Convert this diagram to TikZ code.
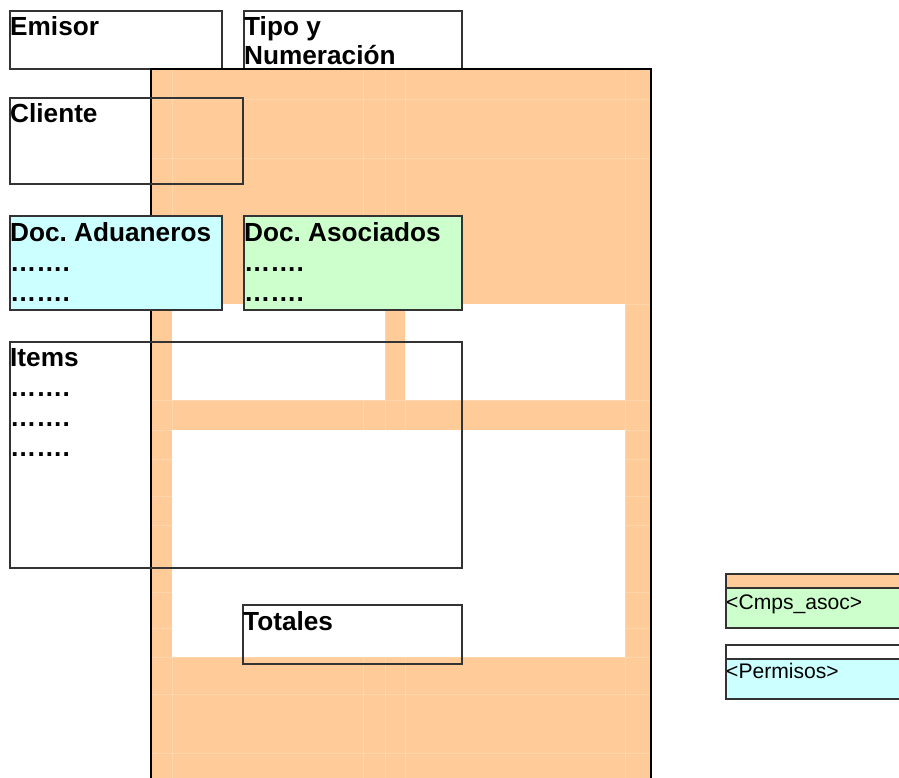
\documentclass[tikz,border=0pt]{standalone}
\usepackage{fontspec}
\setmainfont{Liberation Sans}
\frenchspacing
\definecolor{peach}{HTML}{FFCC99}
\definecolor{paleCyan}{HTML}{CCFFFF}
\definecolor{paleGreen}{HTML}{CCFFCC}
\definecolor{edgegray}{HTML}{333333}
\newcommand\boxlines[1]{\begin{tabular}[t]{@{}l@{}}#1\end{tabular}}
\begin{document}
\begin{tikzpicture}[x=1bp,y=-1bp,
  field/.style={draw=edgegray, line width=1.1bp, rectangle, inner sep=0pt, outer sep=0pt, anchor=north west},
  ttl/.style={inner sep=0pt, anchor=base west, font=\fontsize{26.2bp}{30bp}\selectfont\bfseries\frenchspacing},
  small/.style={inner sep=0pt, anchor=base west, font=\fontsize{21.1bp}{24bp}\selectfont},
  seam/.style={draw=white, opacity=0.18, line width=0.7bp},
  hole/.style={fill=white}]
\useasboundingbox (0,0) rectangle (899,778);

% boxes behind the form
\node[field, minimum width=212bp, minimum height=58bp] (emisor) at (10,11) {};
\node[field, minimum width=218bp, minimum height=58bp] (tipo) at (244,11) {};
\node[ttl] (emisor-t) at (10,36) {Emisor};
\node[ttl, font=\fontsize{26.2bp}{29bp}\selectfont\bfseries] (tipo-t) at (244,36) {\boxlines{Tipo y\\Numeración}};

% the form
\fill[peach] (151,69) rectangle (651,790);
\foreach \x in {172,363,385,405,625} \draw[seam] (\x,69) -- (\x,778);
\foreach \y in {99,158,304,400,430,459,496,525,592,628,657,694,753} \draw[seam] (151,\y) -- (651,\y);
\fill[hole] (172,304) rectangle (385,400);
\fill[hole] (405,304) rectangle (625,400);
\fill[hole] (172,430) rectangle (625,657);
\node[draw=black, line width=2.6bp, inner sep=0pt, outer sep=0pt, anchor=north west,
      minimum width=500bp, minimum height=721bp] (form) at (151,69) {};

% boxes on top of the form
\node[field, minimum width=233bp, minimum height=86bp] (cliente) at (10,98) {};
\node[ttl] (cliente-t) at (10,122) {Cliente};

\node[field, fill=paleCyan, minimum width=212bp, minimum height=94bp] (aduaneros) at (10,216) {};
\node[ttl] (aduaneros-t) at (10,241) {\boxlines{Doc. Aduaneros\\…….\\…….}};

\node[field, fill=paleGreen, minimum width=218bp, minimum height=94bp] (asociados) at (244,216) {};
\node[ttl] (asociados-t) at (244,241) {\boxlines{Doc. Asociados\\…….\\…….}};

\node[field, minimum width=452bp, minimum height=226bp] (items) at (10,342) {};
\node[ttl] (items-t) at (10,366) {\boxlines{Items\\…….\\…….\\…….}};

\node[field, minimum width=219bp, minimum height=59bp] (totales) at (243,605) {};
\node[ttl] (totales-t) at (243,630) {Totales};

% legend on the right
\node[field, fill=peach, minimum width=179bp, minimum height=14bp] (cmps-band) at (726,574) {};
\node[field, fill=paleGreen, minimum width=179bp, minimum height=40bp] (cmps) at (726,588) {};
\node[small] (cmps-t) at (726,609) {<Cmps\_asoc>};

\node[field, fill=white, minimum width=179bp, minimum height=14bp] (perm-band) at (726,645) {};
\node[field, fill=paleCyan, minimum width=179bp, minimum height=40bp] (perm) at (726,659) {};
\node[small] (perm-t) at (726,678) {<Permisos>};
\end{tikzpicture}
\end{document}
